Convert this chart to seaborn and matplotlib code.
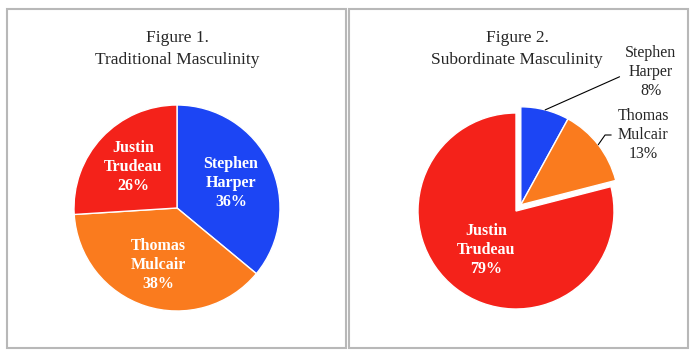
import numpy as np
import matplotlib
matplotlib.use("Agg")
import matplotlib.pyplot as plt
from matplotlib.patches import Rectangle
import seaborn as sns

# data
candidates = ["Stephen Harper", "Thomas Mulcair", "Justin Trudeau"]
traditional = [36, 38, 26]
subordinate = [8, 13, 79]
titles = ["Figure 1.\nTraditional Masculinity", "Figure 2.\nSubordinate Masculinity"]
colors = ["#1c45f4", "#fa7b1e", "#f4221a"]

sns.set_theme(style="white")
plt.rcParams["font.family"] = ["Liberation Serif", "DejaVu Serif"]

W, H = 697, 358
fig = plt.figure(figsize=(W / 100, H / 100), dpi=100)
ax = fig.add_axes([0, 0, 1, 1])


def lab(name, v):
    return name.replace(" ", "\n") + "\n%d%%" % v


# panel borders
for x0 in (7, 349):
    ax.add_patch(Rectangle((x0, H - 348), 339, 339, fill=False, ec="#b8b8b8", lw=1.5))

# titles
ax.text(177, H - 49, titles[0], ha="center", va="center", fontsize=12.5, linespacing=1.45)
ax.text(517, H - 49, titles[1], ha="center", va="center", fontsize=12.5, linespacing=1.45)

inner = dict(color="white", fontweight="bold", fontsize=11.5, linespacing=1.25)
wprops = dict(edgecolor="white", linewidth=1.0)

# Figure 1
w1, t1 = ax.pie(traditional, colors=colors, startangle=90, counterclock=False,
                center=(177, H - 208), radius=103,
                labels=[lab(c, v) for c, v in zip(candidates, traditional)],
                labeldistance=0.58, wedgeprops=wprops, textprops=inner, frame=True)
for t in t1:
    t.set_ha("center")
    t.set_va("center")

# Figure 2
c2 = np.array([516, H - 211])
r2 = 98
w2, t2 = ax.pie(subordinate, colors=colors, startangle=90, counterclock=False,
                center=tuple(c2), radius=r2,
                labels=["", "", lab(candidates[2], subordinate[2])],
                labeldistance=0.5, wedgeprops=wprops, textprops=inner, frame=True)
for t in t2:
    t.set_ha("center")
    t.set_va("center")

# pull Harper + Mulcair out together
mid = np.deg2rad((w2[1].theta1 + w2[0].theta2) / 2)
off = 0.08 * r2 * np.array([np.cos(mid), np.sin(mid)])
for w in w2[:2]:
    w.set_center(tuple(c2 + off))

text_pos = [(651, H - 72), (643, H - 135)]
angB = [24, 55]
for i in range(2):
    a = np.deg2rad((w2[i].theta1 + w2[i].theta2) / 2)
    xy = c2 + off + r2 * np.array([np.cos(a), np.sin(a)])
    ax.annotate(lab(candidates[i], subordinate[i]), xy=xy, xytext=text_pos[i],
                ha="center", va="center", fontsize=11.5, linespacing=1.25,
                arrowprops=dict(arrowstyle="-", color="black", lw=0.8,
                                shrinkA=2, shrinkB=0, relpos=(0, 0.5),
                                connectionstyle="angle,angleA=0,angleB=%d,rad=0" % angB[i]))

ax.set_xlim(0, W)
ax.set_ylim(0, H)
ax.set_aspect("auto")
ax.axis("off")
fig.savefig("out.png", dpi=100)
